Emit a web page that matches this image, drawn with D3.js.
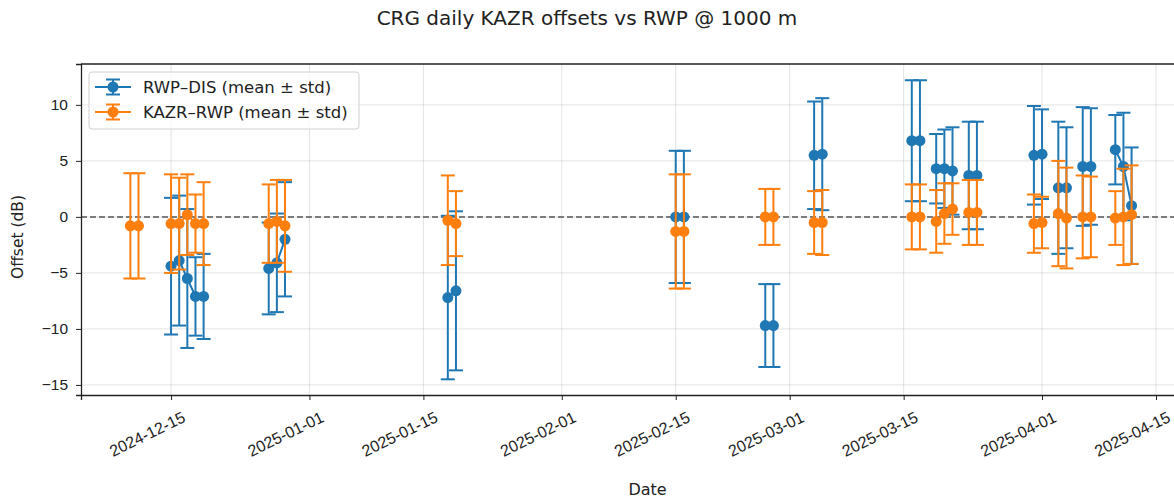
<!DOCTYPE html>
<html>
<head>
<meta charset="utf-8">
<script src="https://cdn.jsdelivr.net/npm/d3@7"></script>
<style>
  body { margin: 0; background: #fff; }
  svg { font-family: "DejaVu Sans", sans-serif; }
</style>
</head>
<body>
<svg width="1174" height="500"></svg>
<script>
// daily offsets (dB); null = no data that day
const dates = ["2024-12-10","2024-12-11","2024-12-15","2024-12-16","2024-12-17","2024-12-18","2024-12-19",
  "2024-12-27","2024-12-28","2024-12-29","2025-01-18","2025-01-19","2025-02-15","2025-02-16",
  "2025-02-26","2025-02-27","2025-03-04","2025-03-05","2025-03-16","2025-03-17","2025-03-19",
  "2025-03-20","2025-03-21","2025-03-23","2025-03-24","2025-03-31","2025-04-01","2025-04-03",
  "2025-04-04","2025-04-06","2025-04-07","2025-04-10","2025-04-11","2025-04-12"];

const rwpDisMean = [null,null,-4.4,-3.9,-5.5,-7.1,-7.1,-4.6,-4.1,-2.0,-7.2,-6.6,0.0,0.0,-9.7,-9.7,
  5.5,5.6,6.8,6.8,4.3,4.3,4.1,3.7,3.7,5.5,5.6,2.6,2.6,4.5,4.5,6.0,4.5,1.0];
const rwpDisStd = [null,null,6.1,5.8,6.2,3.5,3.8,4.1,4.4,5.1,7.3,7.1,5.9,5.9,3.7,3.7,
  4.8,5.0,5.4,5.4,3.1,3.5,3.9,4.8,4.8,4.4,4.0,5.9,5.4,5.3,5.2,3.1,4.8,5.2];

const kazrRwpMean = [-0.8,-0.8,-0.6,-0.6,0.2,-0.6,-0.6,-0.6,-0.4,-0.8,-0.3,-0.6,-1.3,-1.3,0.0,0.0,
  -0.5,-0.5,0.0,0.0,-0.4,0.3,0.7,0.4,0.4,-0.6,-0.5,0.3,-0.1,0.0,0.0,-0.1,0.0,0.2];
const kazrRwpStd = [4.7,4.7,4.4,4.1,3.6,2.6,3.7,3.5,3.7,4.1,4.0,2.9,5.1,5.1,2.5,2.5,
  2.8,2.9,2.9,2.9,2.8,2.7,2.3,2.9,2.9,2.6,2.3,4.7,4.5,3.7,3.6,2.4,4.3,4.4];

const xTicks = ["2024-12-15","2025-01-01","2025-01-15","2025-02-01","2025-02-15",
  "2025-03-01","2025-03-15","2025-04-01","2025-04-15"];
const yTicks = [-15, -10, -5, 0, 5, 10];

const series = [
  {name: "RWP\u2013DIS (mean \u00b1 std)", mean: rwpDisMean, std: rwpDisStd, color: "#1f77b4"},
  {name: "KAZR\u2013RWP (mean \u00b1 std)", mean: kazrRwpMean, std: kazrRwpStd, color: "#ff7f0e"}
];

const svg = d3.select("svg");
const parse = d3.utcParse("%Y-%m-%d");
const axL = 81, axR = 1214, axT = 64, axB = 395;

const x = d3.scaleUtc()
  .domain([new Date(Date.UTC(2024, 11, 3, 22, 30)), new Date(Date.UTC(2025, 3, 22, 3))])
  .range([axL, axR]);
const y = d3.scaleLinear().domain([-15.9, 13.65]).range([axB, axT]);

// grid
const grid = svg.append("g").attr("stroke", "#b0b0b0").attr("stroke-opacity", 0.35).attr("stroke-width", 1);
xTicks.forEach(function(t) {
  grid.append("line").attr("x1", x(parse(t))).attr("x2", x(parse(t))).attr("y1", axT).attr("y2", axB);
});
yTicks.forEach(function(t) {
  grid.append("line").attr("x1", axL).attr("x2", axR).attr("y1", y(t)).attr("y2", y(t));
});

// zero reference
svg.append("line")
  .attr("x1", axL).attr("x2", axR).attr("y1", y(0)).attr("y2", y(0))
  .attr("stroke", "#555").attr("stroke-width", 1.5).attr("stroke-dasharray", "6,3");

// axes
const xAxis = svg.append("g").attr("transform", "translate(0," + axB + ")")
  .call(d3.axisBottom(x).tickValues(xTicks.map(parse)).tickSize(5).tickFormat(d3.utcFormat("%Y-%m-%d")));
xAxis.selectAll("text")
  .attr("font-size", 16).attr("fill", "#222")
  .attr("text-anchor", "end")
  .attr("dy", null).attr("y", 0)
  .attr("transform", "translate(15,26) rotate(-26)");

const yAxis = svg.append("g").attr("transform", "translate(" + axL + ",0)")
  .call(d3.axisLeft(y).tickValues(yTicks).tickSize(5).tickFormat(function(d) { return d < 0 ? "\u2212" + Math.abs(d) : d; }));
yAxis.selectAll("text").attr("font-size", 15.5).attr("fill", "#222").attr("x", -13);

svg.selectAll(".domain").attr("stroke", "#222").attr("stroke-width", 1.3);
svg.selectAll(".tick line").attr("stroke", "#222");
svg.append("line").attr("x1", axL).attr("x2", axR).attr("y1", axT).attr("y2", axT)
  .attr("stroke", "#222").attr("stroke-width", 1.3);

// series
const cap = 7;
series.forEach(function(s) {
  const pts = dates.map(function(d, i) {
    return {date: parse(d), m: s.mean[i], sd: s.std[i]};
  }).filter(function(p) { return p.m !== null; });

  // split into runs of consecutive days
  const runs = [];
  pts.forEach(function(p, i) {
    if (i > 0 && (p.date - pts[i - 1].date) === 864e5) runs[runs.length - 1].push(p);
    else runs.push([p]);
  });

  const g = svg.append("g");
  const line = d3.line().x(function(p) { return x(p.date); }).y(function(p) { return y(p.m); });
  g.selectAll("path.run").data(runs.filter(function(r) { return r.length > 1; }))
    .enter().append("path")
    .attr("d", line).attr("fill", "none").attr("stroke", s.color).attr("stroke-width", 2);

  const bars = g.selectAll("g.bar").data(pts).enter().append("g")
    .attr("stroke", s.color).attr("stroke-width", 2);
  bars.append("line")
    .attr("x1", function(p) { return x(p.date); }).attr("x2", function(p) { return x(p.date); })
    .attr("y1", function(p) { return y(p.m - p.sd); }).attr("y2", function(p) { return y(p.m + p.sd); });
  bars.append("line")
    .attr("x1", function(p) { return x(p.date) - cap; }).attr("x2", function(p) { return x(p.date) + cap; })
    .attr("y1", function(p) { return y(p.m + p.sd); }).attr("y2", function(p) { return y(p.m + p.sd); });
  bars.append("line")
    .attr("x1", function(p) { return x(p.date) - cap; }).attr("x2", function(p) { return x(p.date) + cap; })
    .attr("y1", function(p) { return y(p.m - p.sd); }).attr("y2", function(p) { return y(p.m - p.sd); });

  g.selectAll("circle").data(pts).enter().append("circle")
    .attr("cx", function(p) { return x(p.date); }).attr("cy", function(p) { return y(p.m); })
    .attr("r", 5.5).attr("fill", s.color);
});

// legend
const legend = svg.append("g");
legend.append("rect").attr("x", 89).attr("y", 72).attr("width", 270).attr("height", 57).attr("rx", 3)
  .attr("fill", "#fff").attr("fill-opacity", 0.8).attr("stroke", "#d0d0d0");
series.forEach(function(s, i) {
  const cy = 87 + i * 25;
  const h = legend.append("g").attr("stroke", s.color).attr("stroke-width", 2);
  h.append("line").attr("x1", 95).attr("x2", 131).attr("y1", cy).attr("y2", cy);
  h.append("line").attr("x1", 113).attr("x2", 113).attr("y1", cy - 7.5).attr("y2", cy + 7.5);
  h.append("line").attr("x1", 106).attr("x2", 120).attr("y1", cy - 7.5).attr("y2", cy - 7.5);
  h.append("line").attr("x1", 106).attr("x2", 120).attr("y1", cy + 7.5).attr("y2", cy + 7.5);
  legend.append("circle").attr("cx", 113).attr("cy", cy).attr("r", 5.5).attr("fill", s.color);
  legend.append("text").attr("x", 143).attr("y", cy + 6).attr("font-size", 16.5).attr("fill", "#222").text(s.name);
});

// titles
svg.append("text").attr("x", 587).attr("y", 25).attr("text-anchor", "middle")
  .attr("font-size", 20).attr("fill", "#222").text("CRG daily KAZR offsets vs RWP @ 1000 m");
svg.append("text").attr("x", (axL + axR) / 2).attr("y", 495).attr("text-anchor", "middle")
  .attr("font-size", 16).attr("fill", "#222").text("Date");
svg.append("text").attr("transform", "translate(23,237) rotate(-90)").attr("text-anchor", "middle")
  .attr("font-size", 15.5).attr("fill", "#222").text("Offset (dB)");
</script>
</body>
</html>
